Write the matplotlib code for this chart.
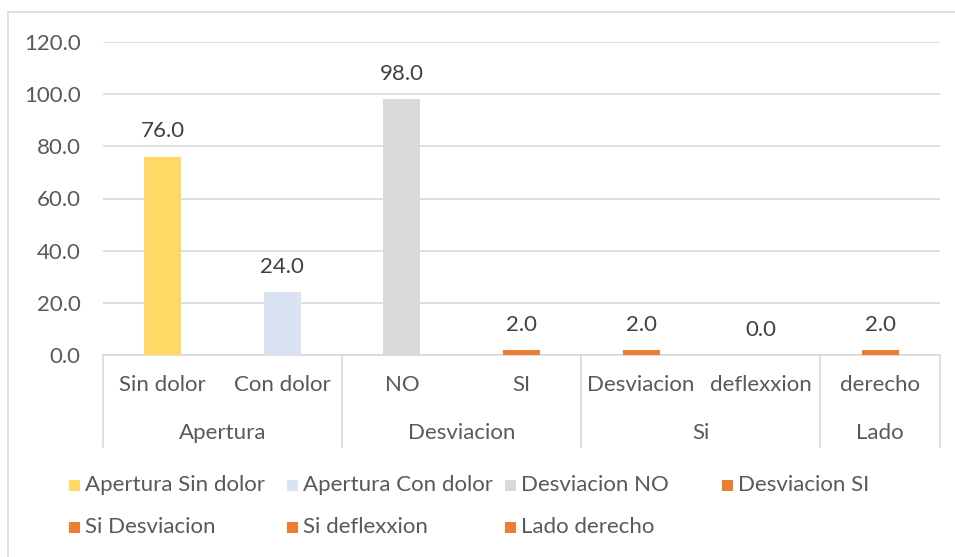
import matplotlib
matplotlib.use("Agg")
import matplotlib.pyplot as plt
from matplotlib.patches import Rectangle
from matplotlib.lines import Line2D

# Data
subcats = ["Sin dolor", "Con dolor", "NO", "SI", "Desviacion", "deflexxion", "derecho"]
groups = ["Apertura", "Desviacion", "Si", "Lado"]
group_sizes = [2, 2, 2, 1]
values = [76.0, 24.0, 98.0, 2.0, 2.0, 0.0, 2.0]
series_names = ["Apertura Sin dolor", "Apertura Con dolor", "Desviacion NO", "Desviacion SI",
                "Si Desviacion", "Si deflexxion", "Lado derecho"]
colors = ["#FFD966", "#DAE3F3", "#D9D9D9", "#ED7D31", "#ED7D31", "#ED7D31", "#ED7D31"]
yticks = [0, 20, 40, 60, 80, 100, 120]

W, H = 955, 557
plt.rcParams["font.family"] = ["Lato", "DejaVu Sans"]
text_col = "#595959"
grid_col = "#D9D9D9"
fs = 16

fig = plt.figure(figsize=(W / 100, H / 100), dpi=100)
fig.patch.set_facecolor("white")

def fx(px):
    return px / W

def fy(py):
    return 1 - py / H

# outer chart border
fig.add_artist(Line2D([fx(8), fx(8)], [fy(12), fy(560)], color=grid_col, lw=1.2))
fig.add_artist(Line2D([fx(8), fx(960)], [fy(12), fy(12)], color=grid_col, lw=1.2))

left, right, top, bottom = 103, 940, 42, 355
ax = fig.add_axes([fx(left), fy(bottom), fx(right) - fx(left), fy(top) - fy(bottom)])
n = len(values)
ax.set_xlim(0, n)
ax.set_ylim(0, 120)
ax.set_yticks(yticks)
ax.set_yticklabels([f"{v:.1f}" for v in yticks], color=text_col, fontsize=fs)
ax.tick_params(axis="y", length=0, pad=16)
ax.tick_params(axis="x", length=0, labelbottom=False)
for s in ["top", "right", "left"]:
    ax.spines[s].set_visible(False)
ax.spines["bottom"].set_color(grid_col)
ax.spines["bottom"].set_linewidth(1.2)
ax.grid(axis="y", color=grid_col, lw=1.2)
ax.set_axisbelow(True)

xs = [i + 0.5 for i in range(n)]
for i, (x, v) in enumerate(zip(xs, values)):
    ax.bar(x, v, width=0.31, color=colors[i], zorder=3)
    ax.annotate(f"{v:.1f}", (x, v), xytext=(0, 11), textcoords="offset points",
                ha="center", va="bottom", color="#404040", fontsize=fs)

# two-level category axis
trans = ax.get_xaxis_transform()
sep_y_bottom = -(447 - bottom) / (bottom - top) * 1.0
for i, lab in enumerate(subcats):
    ax.text(xs[i], -(385 - bottom) / (bottom - top), lab, transform=trans,
            ha="center", va="center", color=text_col, fontsize=fs)
pos = 0
bounds = [0]
for g, sz in zip(groups, group_sizes):
    ax.text(pos + sz / 2, -(433 - bottom) / (bottom - top), g, transform=trans,
            ha="center", va="center", color=text_col, fontsize=fs)
    pos += sz
    bounds.append(pos)
for b in bounds:
    ax.plot([b, b], [0, sep_y_bottom], transform=trans, color=grid_col, lw=1.2, clip_on=False)

# legend laid out in two rows of four columns
col_x = [69, 287, 505, 722]
row_y = [485, 527]
sq = 11
for i, (name, c) in enumerate(zip(series_names, colors)):
    r, k = divmod(i, 4)
    x0, y0 = col_x[k], row_y[r]
    fig.add_artist(Rectangle((fx(x0), fy(y0 + sq / 2)), fx(sq), fy(0) - fy(sq),
                             facecolor=c, edgecolor="none"))
    fig.text(fx(x0 + sq + 5), fy(y0), name, ha="left", va="center", color=text_col, fontsize=fs)

fig.savefig("out.png", dpi=100)
